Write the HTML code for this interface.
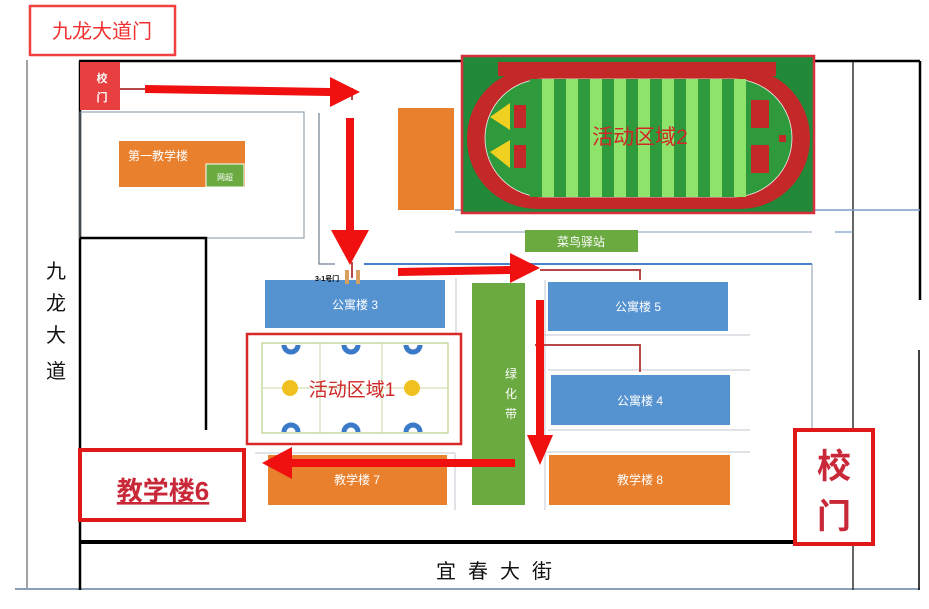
<!DOCTYPE html>
<html><head><meta charset="utf-8"><style>
html,body{margin:0;padding:0;background:#fff;width:929px;height:609px;overflow:hidden}
svg text{font-family:"Liberation Sans","Noto Sans CJK SC",sans-serif}
</style></head><body>
<svg width="929" height="609" viewBox="0 0 929 609" xmlns="http://www.w3.org/2000/svg">
<defs>
<pattern id="st" x="530" y="0" width="24" height="10" patternUnits="userSpaceOnUse">
<rect width="12" height="10" fill="#2e9a3c"/><rect x="12" width="12" height="10" fill="#8ee36a"/>
</pattern>
</defs>
<rect x="30" y="6" width="145" height="49" fill="none" stroke="#f04040" stroke-width="2.5"/>
<text x="102" y="38" font-size="20" fill="#f03030" text-anchor="middle">九龙大道门</text>
<line x1="27" y1="60" x2="27" y2="589" stroke="#444" stroke-width="1"/>
<line x1="15" y1="589" x2="920" y2="589" stroke="#8aa0b8" stroke-width="2"/>
<line x1="79" y1="61" x2="920" y2="61" stroke="#000" stroke-width="2.5"/>
<line x1="80" y1="61" x2="80" y2="590" stroke="#000" stroke-width="2.5"/>
<line x1="920" y1="61" x2="920" y2="300" stroke="#000" stroke-width="2.5"/>
<line x1="919" y1="350" x2="919" y2="590" stroke="#000" stroke-width="1.5"/>
<line x1="853" y1="62" x2="853" y2="590" stroke="#333" stroke-width="1.5"/>
<line x1="80" y1="542" x2="800" y2="542" stroke="#000" stroke-width="4"/>
<rect x="80" y="112" width="224" height="126" fill="none" stroke="#8090a0" stroke-width="1"/>
<polyline points="319,113 319,264 335,264" fill="none" stroke="#708090" stroke-width="1.2"/>
<polyline points="80,238 206,238 206,430" fill="none" stroke="#000" stroke-width="2.5"/>
<line x1="455" y1="210" x2="920" y2="210" stroke="#7a9cc8" stroke-width="1.5"/>
<line x1="455" y1="232" x2="812" y2="232" stroke="#9ab0cc" stroke-width="1.2"/>
<line x1="835" y1="232" x2="853" y2="232" stroke="#7a9cc8" stroke-width="1.2"/>
<line x1="364" y1="264" x2="812" y2="264" stroke="#4a82c8" stroke-width="2"/>
<line x1="812" y1="264" x2="812" y2="432" stroke="#8a9ab0" stroke-width="1"/>
<line x1="456" y1="278" x2="456" y2="440" stroke="#c0c8d0" stroke-width="1"/>
<line x1="545" y1="280" x2="545" y2="510" stroke="#c0c8d0" stroke-width="1"/>
<line x1="540" y1="335" x2="750" y2="335" stroke="#c0c8d0" stroke-width="1"/>
<line x1="548" y1="370" x2="750" y2="370" stroke="#c0c8d0" stroke-width="1"/>
<line x1="548" y1="430" x2="750" y2="430" stroke="#c0c8d0" stroke-width="1"/>
<line x1="545" y1="452" x2="750" y2="452" stroke="#c0c8d0" stroke-width="1"/>
<line x1="255" y1="453" x2="455" y2="453" stroke="#c0c8d0" stroke-width="1"/>
<line x1="455" y1="453" x2="455" y2="510" stroke="#c0c8d0" stroke-width="1"/>
<rect x="80" y="62" width="40" height="48" fill="#e84040"/>
<text x="102" y="82" font-size="11" fill="#fff" text-anchor="middle" font-weight="bold">校</text>
<text x="102" y="101" font-size="11" fill="#fff" text-anchor="middle" font-weight="bold">门</text>
<rect x="119" y="141" width="126" height="46" fill="#e8802e"/>
<rect x="206" y="164" width="38" height="23" fill="#6aaa40" stroke="#fff" stroke-width="1"/>
<text x="128" y="160" font-size="12" fill="#fff">第一教学楼</text>
<text x="225" y="180" font-size="8" fill="#fff" text-anchor="middle">网超</text>
<rect x="398" y="108" width="56" height="102" fill="#e8802e"/>
<!-- track -->
<rect x="462" y="56" width="352" height="157" fill="#22883a" stroke="#d8303a" stroke-width="2.5"/>
<rect x="498" y="62" width="278" height="14" fill="#c42828"/>
<rect x="467" y="68" width="343" height="141" rx="70" fill="#c42828"/>
<rect x="485" y="79" width="307" height="118" rx="59" fill="#2e9a3c" stroke="#eee" stroke-width="0.8"/>
<rect x="530" y="79" width="216" height="118" fill="url(#st)"/>
<polygon points="490,117 510,103 510,130" fill="#f0d020"/>
<polygon points="490,152 510,140 510,168" fill="#f0d020"/>
<rect x="514" y="105" width="12" height="23" fill="#c42828"/>
<rect x="514" y="145" width="12" height="23" fill="#c42828"/>
<rect x="751" y="100" width="18" height="28" fill="#c42828"/>
<rect x="751" y="145" width="18" height="28" fill="#c42828"/>
<rect x="779" y="135" width="7" height="7" fill="#c42828"/>
<text x="640" y="144" font-size="21" fill="#d02828" text-anchor="middle">活动区域2</text>
<rect x="525" y="230" width="113" height="22" fill="#6aaa40"/>
<text x="581" y="246" font-size="12" fill="#fff" text-anchor="middle">菜鸟驿站</text>
<rect x="265" y="280" width="180" height="48" fill="#5592d0"/>
<text x="355" y="309" font-size="12" fill="#fff" text-anchor="middle">公寓楼 3</text>
<text x="315" y="281" font-size="7" fill="#000" font-weight="bold">3-1号门</text>
<rect x="345" y="270" width="4" height="14" fill="#d8a060"/><rect x="356" y="270" width="4" height="14" fill="#d8a060"/>
<rect x="548" y="282" width="180" height="49" fill="#5592d0"/>
<text x="638" y="311" font-size="12" fill="#fff" text-anchor="middle">公寓楼 5</text>
<rect x="551" y="375" width="179" height="50" fill="#5592d0"/>
<text x="640" y="405" font-size="12" fill="#fff" text-anchor="middle">公寓楼 4</text>
<rect x="472" y="283" width="53" height="222" fill="#6aaa40"/>
<text x="511" y="378" font-size="12" fill="#fff" text-anchor="middle">绿</text>
<text x="511" y="398" font-size="12" fill="#fff" text-anchor="middle">化</text>
<text x="511" y="418" font-size="12" fill="#fff" text-anchor="middle">带</text>
<rect x="268" y="455" width="179" height="50" fill="#e8802e"/>
<text x="357" y="484" font-size="12" fill="#fff" text-anchor="middle">教学楼 7</text>
<rect x="549" y="455" width="181" height="50" fill="#e8802e"/>
<text x="640" y="484" font-size="12" fill="#fff" text-anchor="middle">教学楼 8</text>
<rect x="247" y="334" width="214" height="110" fill="#fff" stroke="#d82828" stroke-width="2.5"/>
<rect x="262" y="343" width="186" height="90" fill="#fff" stroke="#a8c870" stroke-width="1"/>
<line x1="320" y1="343" x2="320" y2="433" stroke="#c8d8a8"/><line x1="382" y1="343" x2="382" y2="433" stroke="#c8d8a8"/>
<line x1="262" y1="388" x2="448" y2="388" stroke="#c8d8a8"/>
<g fill="none" stroke="#3a7ac8" stroke-width="5">
<path d="M284,345 a7,7 0 0 0 14,0"/><path d="M344,345 a7,7 0 0 0 14,0"/><path d="M406,345 a7,7 0 0 0 14,0"/>
<path d="M284,432 a7,7 0 0 1 14,0"/><path d="M344,432 a7,7 0 0 1 14,0"/><path d="M406,432 a7,7 0 0 1 14,0"/>
</g>
<circle cx="290" cy="388" r="8" fill="#f0c020"/><circle cx="412" cy="388" r="8" fill="#f0c020"/>
<text x="352" y="396" font-size="19" fill="#d02828" text-anchor="middle">活动区域1</text>
<rect x="80" y="450" width="164" height="70" fill="#fff" stroke="#e01818" stroke-width="4"/>
<text x="163" y="500" font-size="26" fill="#c82838" text-anchor="middle" font-weight="bold" text-decoration="underline">教学楼6</text>
<rect x="795" y="430" width="78" height="114" fill="#fff" stroke="#e01818" stroke-width="4"/>
<text x="834" y="478" font-size="34" fill="#c82838" text-anchor="middle" font-weight="bold">校</text>
<text x="834" y="528" font-size="34" fill="#c82838" text-anchor="middle" font-weight="bold">门</text>
<g font-size="20" fill="#111" text-anchor="middle" font-family="Liberation Serif,Noto Serif CJK SC,serif">
<text x="56" y="278">九</text><text x="56" y="310">龙</text><text x="56" y="342">大</text><text x="56" y="378">道</text>
<text x="500" y="578" letter-spacing="12">宜春大街</text>
</g>
<g fill="none" stroke="#b84848" stroke-width="2">
<polyline points="120,89 352,89 352,100"/>
<polyline points="540,270 640,270 640,280"/>
<polyline points="535,345 640,345 640,372"/>
<line x1="352" y1="262" x2="352" y2="278"/>
</g>
<g fill="#f01010">
<polygon points="145,85 330,88 330,77 360,92 330,107 330,96 145,93"/>
<polygon points="346,118 354,118 354,230 369,230 350,265 331,230 346,230"/>
<polygon points="398,268 510,266 510,253 540,268 510,283 510,274 398,276"/>
<polygon points="536,300 544,300 544,435 553,435 540,465 527,435 536,435"/>
<polygon points="515,459 292,459 292,447 262,463 292,479 292,467 515,467"/>
</g>
</svg>
</body></html>
